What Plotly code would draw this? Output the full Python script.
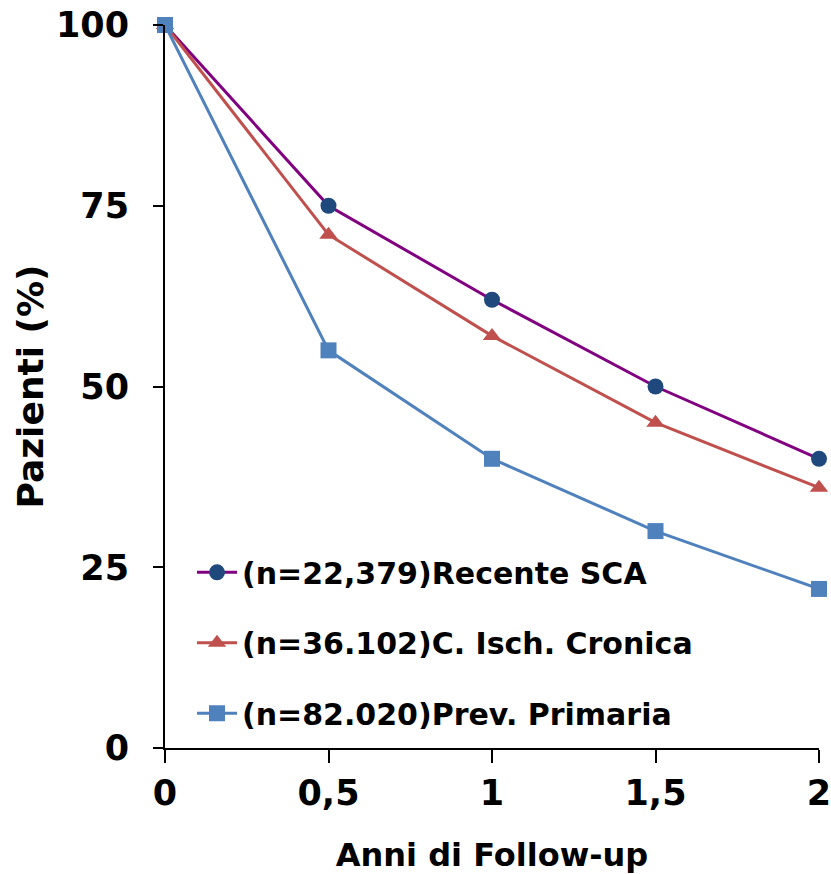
import plotly.graph_objects as go

years = [0, 0.5, 1, 1.5, 2]
sca = [100, 75, 62, 50, 40]
cronica = [100, 71, 57, 45, 36]
primaria = [100, 55, 40, 30, 22]

names = ["(n=22,379)Recente SCA", "(n=36.102)C. Isch. Cronica", "(n=82.020)Prev. Primaria"]
x_ticks = [0, 0.5, 1, 1.5, 2]
x_ticktext = ["0", "0,5", "1", "1,5", "2"]
y_ticks = [0, 25, 50, 75, 100]

FONT = "DejaVu Sans"

fig = go.Figure()
fig.add_trace(go.Scatter(
    x=years, y=sca, name=names[0], mode="lines+markers", legendgroup="a",
    line=dict(color="#800080", width=3),
    marker=dict(symbol="circle", size=16, color="#1F497D"),
    cliponaxis=False))
fig.add_trace(go.Scatter(
    x=years, y=cronica, name=names[1], mode="lines+markers", legendgroup="b",
    line=dict(color="#C0504D", width=3),
    marker=dict(symbol="triangle-up", size=16, color="#C0504D"),
    cliponaxis=False))
fig.add_trace(go.Scatter(
    x=years, y=primaria, name=names[2], mode="lines+markers", legendgroup="c",
    line=dict(color="#4F81BD", width=3),
    marker=dict(symbol="square", size=16, color="#4F81BD"),
    cliponaxis=False))

fig.update_layout(
    width=831, height=874,
    margin=dict(l=165, r=12, t=25, b=126, autoexpand=False),
    paper_bgcolor="white", plot_bgcolor="white",
    font=dict(family=FONT, color="black"),
    showlegend=True,
    legend=dict(
        x=0.0413, y=0.279, xanchor="left", yanchor="top",
        font=dict(family=FONT, size=30, color="black", weight="bold"),
        bgcolor="rgba(0,0,0,0)", tracegroupgap=28.5, traceorder="grouped",
        itemwidth=40,
    ),
    xaxis=dict(
        range=[0, 2], tickvals=x_ticks, ticktext=x_ticktext,
        showgrid=False, zeroline=False, showline=True, linecolor="black", linewidth=2,
        ticks="outside", ticklen=13, tickwidth=2, tickcolor="black",
        tickfont=dict(family=FONT, size=35, weight="bold"),
        ticklabelstandoff=0, ticklabeloverflow="allow", automargin=False,
        title=dict(text="Anni di Follow-up", font=dict(family=FONT, size=32, weight="bold"), standoff=32),
    ),
    yaxis=dict(
        range=[0, 100], tickvals=y_ticks,
        showgrid=False, zeroline=False, showline=True, linecolor="black", linewidth=2,
        ticks="outside", ticklen=10, tickwidth=2, tickcolor="black",
        tickfont=dict(family=FONT, size=35, weight="bold"),
        ticklabelstandoff=17, ticklabeloverflow="allow", automargin=False,
        title=dict(text="Pazienti (%)", font=dict(family=FONT, size=36, weight="bold"), standoff=1),
    ),
)

fig.write_html("out.html")
